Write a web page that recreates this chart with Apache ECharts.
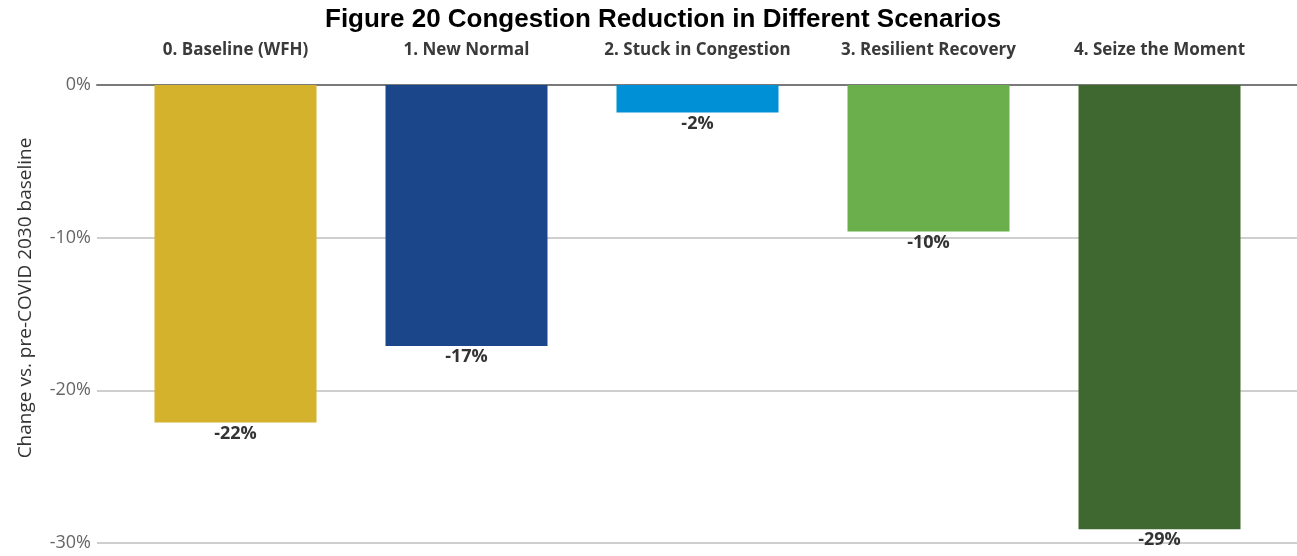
<!DOCTYPE html>
<html>
<head>
<meta charset="utf-8">
<script src="https://cdn.jsdelivr.net/npm/echarts@6/dist/echarts.min.js"></script>
<style>
  html, body { margin: 0; padding: 0; background: #fff; }
  #chart { width: 1297px; height: 556px; }
</style>
</head>
<body>
<div id="chart"></div>
<script>
const scenarios = [
  '0. Baseline (WFH)',
  '1. New Normal',
  '2. Stuck in Congestion',
  '3. Resilient Recovery',
  '4. Seize the Moment'
]
const reduction = [-22.1, -17.1, -1.8, -9.6, -29.1]
const barColors = ['#D4B22B', '#1C468A', '#0090D6', '#6AAF4C', '#3E6830']

const chart = echarts.init(document.getElementById('chart'))

chart.setOption({
  animation: false,
  title: {
    text: 'Figure 20 Congestion Reduction in Different Scenarios',
    left: 320,
    top: 2,
    textStyle: { fontFamily: 'Liberation Sans', fontWeight: 'bold', fontSize: 26, color: '#000' }
  },
  grid: [
    // gridlines / 0% line run the whole width
    { left: 97, right: 0, top: 85, bottom: 13 },
    // bars
    { left: 120, right: 22, top: 85, bottom: 13 }
  ],
  xAxis: [
    {
      gridIndex: 0, type: 'category', position: 'top', data: [''],
      axisLine: { show: true, lineStyle: { color: '#7a7a7a', width: 2 } },
      axisTick: { show: false }, axisLabel: { show: false }
    },
    {
      gridIndex: 1, type: 'category', position: 'top', data: scenarios,
      axisLine: { show: false }, axisTick: { show: false },
      axisLabel: {
        interval: 0, margin: 26,
        fontFamily: 'Open Sans', fontWeight: 'bold', fontSize: 17, color: '#3a3a3a'
      }
    }
  ],
  yAxis: [
    {
      gridIndex: 0, type: 'value', min: -30, max: 0, interval: 10,
      name: 'Change vs. pre-COVID 2030 baseline',
      nameLocation: 'middle', nameGap: 62,
      nameTextStyle: { fontFamily: 'Open Sans', fontSize: 19, color: '#333', padding: [0, 0, 0, 32] },
      axisLine: { show: false }, axisTick: { show: false },
      axisLabel: {
        formatter: '{value}%', margin: 6,
        fontFamily: 'Open Sans', fontSize: 18, color: '#666'
      },
      splitLine: { lineStyle: { color: '#cfcfcf', width: 2 } }
    },
    {
      gridIndex: 1, type: 'value', min: -30, max: 0, interval: 10,
      axisLine: { show: false }, axisTick: { show: false },
      axisLabel: { show: false }, splitLine: { show: false }
    }
  ],
  series: [
    {
      type: 'bar',
      xAxisIndex: 1,
      yAxisIndex: 1,
      barWidth: 162,
      data: reduction.map((v, i) => ({ value: v, itemStyle: { color: barColors[i] } })),
      label: {
        show: true,
        position: 'bottom',
        distance: 2,
        fontFamily: 'Open Sans',
        fontWeight: 'bold',
        fontSize: 18,
        color: '#333',
        formatter: p => Math.round(p.value) + '%'
      }
    }
  ]
})
</script>
</body>
</html>
